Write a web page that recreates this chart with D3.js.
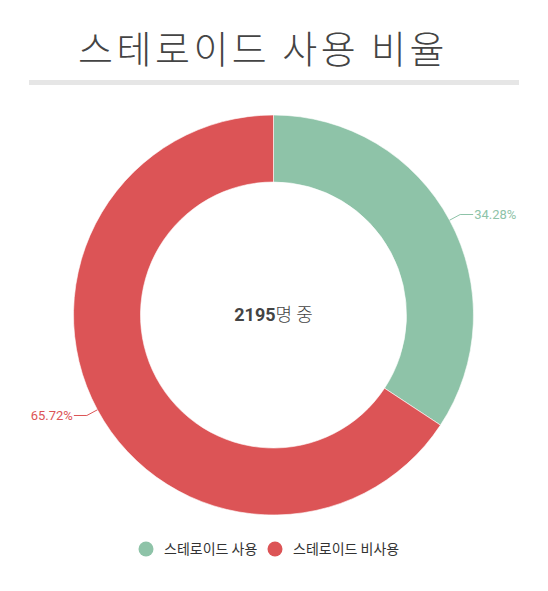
<!DOCTYPE html>
<html>
<head>
<meta charset="utf-8">
<script src="https://cdn.jsdelivr.net/npm/d3@7"></script>
<style>
  body { margin: 0; background: #fff; }
  svg { font-family: "Noto Sans CJK KR", Roboto, sans-serif; }
</style>
</head>
<body>
<svg width="548" height="591"></svg>
<script>
var categories = ["스테로이드 사용", "스테로이드 비사용"]
var values = [34.28, 65.72]
var colors = ["#8ec3a8", "#dc5456"]
var total = 2195
var title = "스테로이드 사용 비율"

var svg = d3.select("svg")
var cx = 273.5, cy = 315, outerR = 200, innerR = 133

// title + grey rule
svg.append("text")
    .attr("x", 78)
    .attr("y", 63)
    .attr("fill", "#444")
    .attr("font-size", 38)
    .attr("font-weight", 300)
    .attr("letter-spacing", 3.5)
    .text(title)

svg.append("rect")
    .attr("x", 29).attr("y", 80)
    .attr("width", 490).attr("height", 5)
    .attr("fill", "#e6e6e6")

var g = svg.append("g").attr("transform", "translate(" + cx + "," + cy + ")")

var pie = d3.pie().sort(null).value(function (d) { return d })
var arc = d3.arc().innerRadius(innerR).outerRadius(outerR)
var arcs = pie(values)

g.selectAll("path.slice")
    .data(arcs)
    .enter().append("path")
    .attr("class", "slice")
    .attr("fill", function (d, i) { return colors[i] })
    .attr("stroke", "#fff")
    .attr("stroke-width", 0.6)
    .attr("d", arc)

// data labels with connectors
arcs.forEach(function (d, i) {
    var a = (d.startAngle + d.endAngle) / 2
    var s = Math.sin(a), c = -Math.cos(a)
    var p0 = [outerR * s, outerR * c]
    var p1 = [(outerR + 12) * s, (outerR + 12) * c]
    var dir = s >= 0 ? 1 : -1
    var p2 = [p1[0] + dir * 13, p1[1]]
    g.append("path")
        .attr("d", d3.line()([p0, p1, p2]))
        .attr("fill", "none")
        .attr("stroke", colors[i])
        .attr("stroke-width", 1)
    g.append("text")
        .attr("x", p2[0] + dir * 1)
        .attr("y", p2[1])
        .attr("dy", "0.35em")
        .attr("text-anchor", dir > 0 ? "start" : "end")
        .attr("font-family", "Roboto, sans-serif")
        .attr("font-size", 13)
        .attr("fill", colors[i])
        .text(values[i].toFixed(2) + "%")
})

// centre text
var ct = g.append("text")
    .attr("x", 0).attr("y", 0)
    .attr("dy", "0.35em")
    .attr("text-anchor", "middle")
    .attr("fill", "#444")
    .attr("font-size", 18)
ct.append("tspan").attr("font-family", "Roboto, sans-serif").attr("font-weight", "bold").text(total)
ct.append("tspan").attr("font-weight", 300).text("명 중")

// legend
var legendX = [146, 275]
var legend = svg.append("g")
categories.forEach(function (name, i) {
    legend.append("circle")
        .attr("cx", legendX[i]).attr("cy", 549)
        .attr("r", 7.5)
        .attr("fill", colors[i])
    legend.append("text")
        .attr("x", legendX[i] + 18).attr("y", 549)
        .attr("dy", "0.35em")
        .attr("font-size", 14)
        .attr("fill", "#333")
        .text(name)
})
</script>
</body>
</html>
